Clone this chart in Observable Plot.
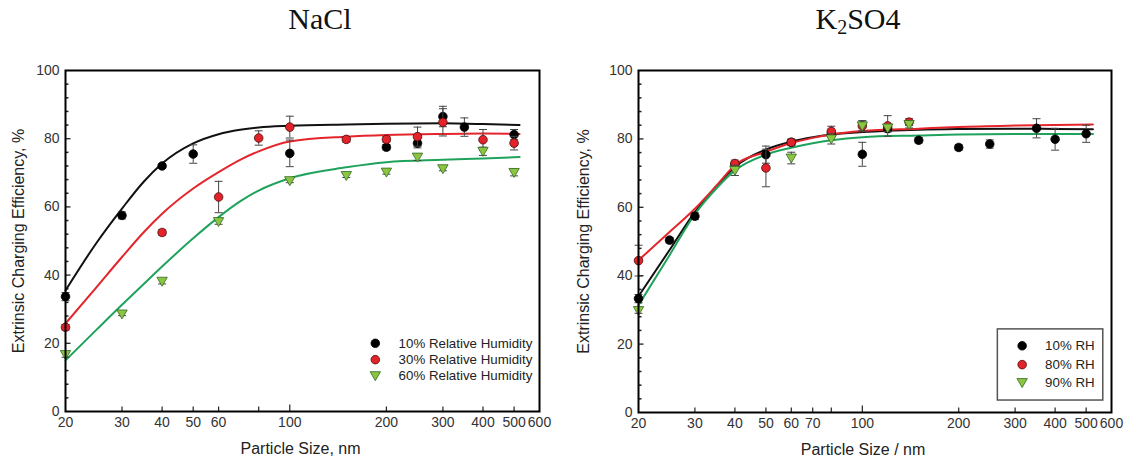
<!DOCTYPE html>
<html><head><meta charset="utf-8">
<script src="https://cdn.jsdelivr.net/npm/d3@7"></script>
<script src="https://cdn.jsdelivr.net/npm/@observablehq/plot@0.6"></script>
<style>
html,body{margin:0;padding:0;background:#fff;}
#root{position:relative;width:1126px;height:465px;overflow:hidden;background:#fff;}
.title{position:absolute;font-family:"Liberation Serif","Times New Roman",serif;font-size:30px;line-height:30px;color:#111;white-space:nowrap;transform:translateX(-50%);}
.panel{position:absolute;top:45px;}
</style></head><body>
<div id="root">
<div class="title" style="left:320px;top:4px">NaCl</div>
<div class="title" style="left:858px;top:4px">K<span style="font-size:20px;position:relative;top:5px">2</span>SO4</div>
<div class="panel" id="left" style="left:0"></div>
<div class="panel" id="right" style="left:563px"></div>
</div>
<script>
// ---------- NaCl data ----------
const naclX10 = [20,30,40,50,100,200,250,300,350,500];
const naclY10 = [33.7,57.5,72.0,75.5,75.7,77.5,78.7,86.5,83.4,81.2];
const naclE10 = [1.2,1.0,0.6,2.7,3.9,0.8,1.4,3.0,2.7,1.5];
const naclX30 = [20,40,60,80,100,150,200,250,300,400,500];
const naclY30 = [24.7,52.5,62.9,80.2,83.4,79.8,79.8,80.6,84.8,79.7,78.7];
const naclE30 = [0.8,0.8,4.6,2.1,3.2,0.8,0.8,2.8,4.0,3.0,2.0];
const naclX60 = [20,30,40,60,100,150,200,250,300,400,500];
const naclY60 = [16.7,28.6,38.2,55.7,67.7,69.2,70.2,74.6,71.2,76.3,70.1];
const naclE60 = [0.8,0.5,0.8,0.8,0.6,0.6,0.6,1.0,0.6,1.2,1.0];
const naclFitX  = [20,25,30,35,40,50,60,70,80,100,150,200,300,400,520];
const naclFit10 = [35.5,49.5,59.5,67.3,72.7,78.6,81.3,82.6,83.3,83.8,84.2,84.4,84.5,84.3,84.0];
const naclFit30 = [25.8,36.5,45.3,52.5,58.0,65.4,70.2,73.8,76.3,79.2,80.6,81.1,81.4,81.5,81.4];
const naclFit60 = [15.0,24.0,31.3,37.3,42.5,50.8,57.0,61.6,64.8,68.4,71.6,73.1,73.8,74.2,74.6];
const naclLabels = ["10% Relative Humidity","30% Relative Humidity","60% Relative Humidity"];

// ---------- K2SO4 data ----------
const kX10 = [20,25,30,40,50,60,80,100,120,150,200,250,350,400,500];
const kY10 = [33.3,50.4,57.4,72.5,75.4,79.0,81.5,75.5,83.0,79.6,77.5,78.5,83.1,79.9,81.5];
const kE10 = [1.2,0.8,1.0,0.8,2.5,0.8,1.0,3.5,1.0,0.8,0.8,1.2,2.8,3.2,2.5];
const kX80 = [20,40,50,60,80,100,120,140];
const kY80 = [44.4,72.8,71.5,79.0,82.2,83.8,83.8,84.9];
const kE80 = [4.5,1.0,5.5,1.0,1.5,1.5,3.0,1.0];
const kX90 = [20,40,60,80,100,120,140];
const kY90 = [29.8,70.8,74.4,80.0,83.8,83.2,84.2];
const kE90 = [0.8,1.5,1.7,1.5,1.5,1.0,1.0];
const kFitX  = [20,25,30,35,40,50,60,70,80,100,150,200,300,400,525];
const kFit10 = [34.0,47.5,58.6,66.0,71.8,76.9,79.2,80.5,81.3,82.0,82.7,82.9,83.0,82.9,82.8];
const kFit80 = [44.5,52.8,59.6,66.3,72.3,76.2,78.8,80.3,81.3,82.3,83.0,83.5,83.9,84.1,84.2];
const kFit90 = [31.4,46.0,58.0,65.5,70.8,75.4,77.4,78.7,79.6,80.5,81.0,81.3,81.4,81.4,81.4];
const kLabels = ["10% RH","80% RH","90% RH"];

// ---------- axes ----------
const yTickLabels = [0,20,40,60,80,100];
const naclXTicks = [20,30,40,50,60,80,100,200,300,400,500,600];
const kXTicks = [20,30,40,50,60,70,80,100,200,300,400,500,600];
const yAxisTitle = "Extrinsic Charging Efficiency, %";

// ---------- symbols ----------
const triDown = {draw(ctx){ ctx.moveTo(-5.2,-4); ctx.lineTo(5.2,-4); ctx.lineTo(0,5); ctx.closePath(); }};
const capSym = {draw(ctx){ ctx.moveTo(-4,0); ctx.lineTo(4,0); }};
const tickRight = L => ({draw(ctx){ ctx.moveTo(0,0); ctx.lineTo(L,0); }});
const tickUp = L => ({draw(ctx){ ctx.moveTo(0,0); ctx.lineTo(0,-L); }});

const styles = [
  {fill:"#000", stroke:"#000", line:"#111", symbol:"circle"},
  {fill:"#e2232a", stroke:"#4a0b0b", line:"#e4252b", symbol:"circle"},
  {fill:"#8cc540", stroke:"#2f6b25", line:"#1fa35c", symbol:triDown}
];

function rows(xs, ys, es){ return xs.map((x,i)=>({x, y: ys[i], e: es[i]})); }

function seriesMarks(data, st){
  return [
    Plot.ruleX(data, {x:"x", y1:d=>d.y-d.e, y2:d=>d.y+d.e, stroke:"#444", strokeWidth:1}),
    Plot.dot(data, {x:"x", y:d=>d.y-d.e, symbol:capSym, stroke:"#444", fill:"none", strokeWidth:1}),
    Plot.dot(data, {x:"x", y:d=>d.y+d.e, symbol:capSym, stroke:"#444", fill:"none", strokeWidth:1}),
    Plot.dot(data, {x:"x", y:"y", r:4.3, symbol:st.symbol, fill:st.fill, stroke:st.stroke, strokeWidth:0.8})
  ];
}
function fitMark(xs, ys, st){
  return Plot.line(xs.map((x,i)=>({x, y: ys[i]})), {x:"x", y:"y", stroke:st.line, strokeWidth:2, curve:"monotone-x"});
}

function panel(o){
  const yMinor = d3.range(4,100,4).filter(v => v % 20 !== 0);
  const yMajor = [20,40,60,80];
  const xInner = o.xTicks.filter(v => v !== 20 && v !== 600);
  const legendMarks = [];
  if (o.box) legendMarks.push(Plot.rect([0], {x1:o.box[0], x2:o.box[1], y1:o.box[2], y2:o.box[3], fill:"white", stroke:"#555", strokeWidth:1.5}));
  o.labels.forEach((lab, i) => {
    const st = styles[i];
    legendMarks.push(Plot.dot([0], {x:o.legSymX, y:o.legY[i], r:4.3, symbol:st.symbol, fill:st.fill, stroke:st.stroke, strokeWidth:0.8}));
    legendMarks.push(Plot.text([lab], {x:o.legTextX, y:o.legY[i], text:d=>d, textAnchor:"start", fontSize:13.3, fill:"#222"}));
  });
  return Plot.plot({
    width:563, height:420,
    marginTop:25, marginBottom:o.marginBottom, marginLeft:o.marginLeft, marginRight:o.marginRight,
    style:{fontFamily:"'Liberation Sans', Arial, sans-serif", fontSize:"14px", color:"#333", background:"white"},
    x:{type:"log", domain:[20,600]},
    y:{domain:[0,100]},
    marks:[
      Plot.axisY({ticks:yTickLabels, tickSize:0, tickPadding:6, label:null, fontSize:14}),
      Plot.axisX({ticks:o.xTicks, tickSize:0, tickPadding:6, label:null, tickFormat:d=>String(d), fontSize:14}),
      Plot.dot(yMinor, {y:d=>d, frameAnchor:"left", symbol:tickRight(3), stroke:"#222", fill:"none"}),
      Plot.dot(yMajor, {y:d=>d, frameAnchor:"left", symbol:tickRight(5), stroke:"#222", fill:"none", strokeWidth:1.3}),
      Plot.dot(xInner, {x:d=>d, frameAnchor:"bottom", symbol:d=>d===100?tickUp(7):tickUp(5), stroke:"#222", fill:"none", strokeWidth:1.2}),
      ...o.fits.map((f,i)=>fitMark(o.fitX, f, styles[i])),
      ...o.data.flatMap((d,i)=>seriesMarks(d, styles[i])),
      ...legendMarks,
      Plot.text([yAxisTitle], {frameAnchor:"left", textAnchor:"middle", dx:o.yLabelDx, rotate:-90, fontSize:16, fill:"#222"}),
      Plot.text([o.xLabel], {frameAnchor:"bottom", textAnchor:"middle", dy:42, dx:o.xLabelDx, fontSize:16, fill:"#222"}),
      Plot.frame({stroke:"#000", strokeWidth:2})
    ]
  });
}

document.getElementById("left").append(panel({
  marginLeft:65, marginRight:24, marginBottom:54,
  xTicks:naclXTicks, xLabel:"Particle Size, nm", xLabelDx:-2, yLabelDx:-47,
  fitX:naclFitX, fits:[naclFit10, naclFit30, naclFit60],
  data:[rows(naclX10,naclY10,naclE10), rows(naclX30,naclY30,naclE30), rows(naclX60,naclY60,naclE60)],
  labels:naclLabels, legSymX:184.7, legTextX:218.3, legY:[20.0,15.2,10.5], box:null
}));

document.getElementById("right").append(panel({
  marginLeft:75, marginRight:15, marginBottom:53,
  xTicks:kXTicks, xLabel:"Particle Size / nm", xLabelDx:-12, yLabelDx:-55,
  fitX:kFitX, fits:[kFit10, kFit80, kFit90],
  data:[rows(kX10,kY10,kE10), rows(kX80,kY80,kE80), rows(kX90,kY90,kE90)],
  labels:kLabels, legSymX:315.6, legTextX:372.2, legY:[19.5,14.0,8.75], box:[265,565.6,3.5,24.3]
}));
</script>
</body></html>
